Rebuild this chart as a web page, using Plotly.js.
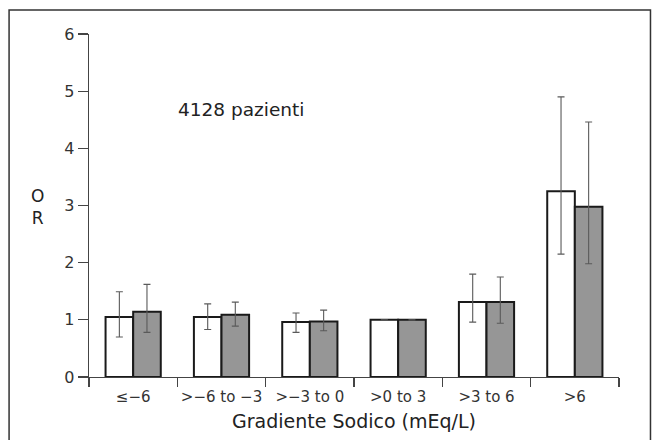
<!DOCTYPE html>
<html>
<head>
<meta charset="utf-8">
<script src="https://cdn.plot.ly/plotly-3.0.1.min.js"></script>
<style>html,body{margin:0;padding:0;background:#fff;}#chart{width:654px;height:440px;}</style>
</head>
<body>
<div id="chart"></div>
<script>
var categories = ["\u2264\u22126", ">\u22126 to \u22123", ">\u22123 to 0", ">0 to 3", ">3 to 6", ">6"];
var orWhite = [1.05, 1.05, 0.96, 1.00, 1.31, 3.25];
var ciWhiteHigh = [1.49, 1.28, 1.12, 1.00, 1.80, 4.90];
var ciWhiteLow = [0.70, 0.83, 0.78, 1.00, 0.96, 2.15];
var orGrey = [1.14, 1.09, 0.97, 1.00, 1.31, 2.98];
var ciGreyHigh = [1.62, 1.31, 1.17, 1.00, 1.75, 4.46];
var ciGreyLow = [0.78, 0.89, 0.81, 1.00, 0.94, 1.98];
var yTicks = [0, 1, 2, 3, 4, 5, 6];

function plus(v, hi) { return hi.map(function (h, i) { return h - v[i]; }); }
function minus(v, lo) { return lo.map(function (l, i) { return v[i] - l; }); }

var errStyle = { color: "#5a5a5a", thickness: 1.1, width: 3.5 };

var traces = [
  {
    type: "bar", name: "OR", x: categories, y: orWhite,
    marker: { color: "#ffffff", line: { color: "#1a1a1a", width: 2 } },
    error_y: Object.assign({ type: "data", symmetric: false, array: plus(orWhite, ciWhiteHigh), arrayminus: minus(orWhite, ciWhiteLow) }, errStyle),
    hoverinfo: "y"
  },
  {
    type: "bar", name: "OR aggiustato", x: categories, y: orGrey,
    marker: { color: "#969696", line: { color: "#1a1a1a", width: 2 } },
    error_y: Object.assign({ type: "data", symmetric: false, array: plus(orGrey, ciGreyHigh), arrayminus: minus(orGrey, ciGreyLow) }, errStyle),
    hoverinfo: "y"
  }
];

var fontFam = "DejaVu Sans, Verdana, sans-serif";
var layout = {
  width: 654, height: 440,
  margin: { l: 89, r: 34.5, t: 34, b: 63 },
  paper_bgcolor: "#ffffff", plot_bgcolor: "#ffffff",
  showlegend: false,
  barmode: "group", bargap: 0.375, bargroupgap: 0,
  font: { family: fontFam, color: "#333333", size: 15 },
  xaxis: {
    type: "category", range: [-0.5, 5.5], tickangle: 0, automargin: false,
    showline: true, linecolor: "#444", linewidth: 1.3,
    ticks: "outside", tickson: "boundaries", ticklen: 9, tickcolor: "#444", tickwidth: 1.3,
    ticklabelstandoff: 6,
    showgrid: false, zeroline: false,
    tickfont: { size: 15, color: "#333" },
    title: { text: "Gradiente Sodico (mEq/L)", font: { size: 19, color: "#222" }, standoff: 9 }
  },
  yaxis: {
    range: [0, 6], tickvals: yTicks, automargin: false,
    showline: true, linecolor: "#444", linewidth: 1.3,
    ticks: "outside", ticklen: 10, tickcolor: "#444", tickwidth: 1.3,
    showgrid: false, zeroline: false,
    tickfont: { size: 16, color: "#333" }
  },
  annotations: [
    { text: "O<br>R", xref: "paper", yref: "paper", x: -0.097, y: 0.497, showarrow: false, font: { size: 17, color: "#222" }, xanchor: "center", yanchor: "middle" },
    { text: "4128 pazienti", xref: "paper", yref: "paper", x: 0.165, y: 0.78, showarrow: false, font: { size: 18.5, color: "#222" }, xanchor: "left", yanchor: "middle" }
  ],
  shapes: [
    { type: "rect", xref: "paper", yref: "paper", x0: -0.1508, x1: 1.0594, y0: -0.2, y1: 1.070, line: { color: "#333", width: 1.5 }, fillcolor: "rgba(0,0,0,0)" }
  ]
};

Plotly.newPlot("chart", traces, layout, { displayModeBar: false, staticPlot: true });
</script>
</body>
</html>
